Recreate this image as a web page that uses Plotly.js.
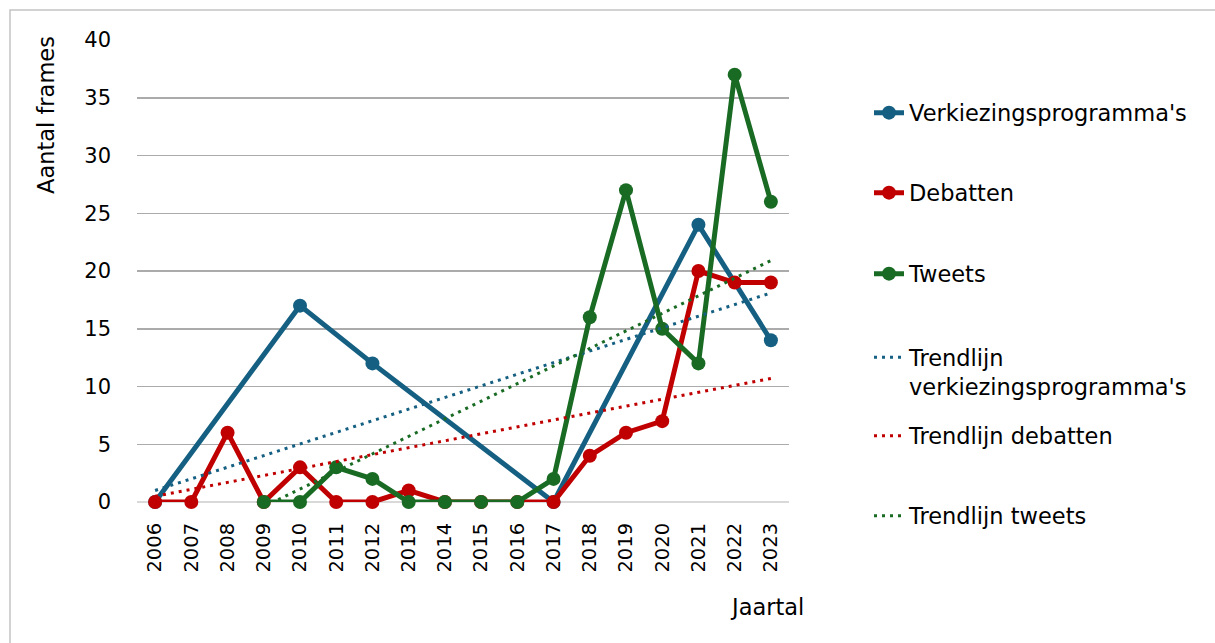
<!DOCTYPE html>
<html>
<head>
<meta charset="utf-8">
<script src="https://cdn.plot.ly/plotly-3.0.1.min.js"></script>
<style>
  html, body { margin: 0; padding: 0; background: #ffffff; }
  #chart { width: 1215px; height: 643px; }
</style>
</head>
<body>
<div id="chart"></div>
<script>
// ---- data ----
const years = ['2006','2007','2008','2009','2010','2011','2012','2013','2014','2015','2016','2017','2018','2019','2020','2021','2022','2023'];
const verkiezingsprogrammas = [0, null, null, null, 17, null, 12, null, null, null, null, 0, null, null, null, 24, null, 14];
const debatten = [0, 0, 6, 0, 3, 0, 0, 1, 0, 0, 0, 0, 4, 6, 7, 20, 19, 19];
const tweets = [null, null, null, 0, 0, 3, 2, 0, 0, 0, 0, 2, 16, 27, 15, 12, 37, 26];
// trendline end points [first year, last year]
const trendYearsVerk = ['2006', '2023'];
const trendVerk = [1.0, 18.1];
const trendYearsDeb = ['2006', '2023'];
const trendDeb = [0.5, 10.7];
const trendYearsTw = ['2009', '2023'];
const trendTw = [-0.4, 20.9];
const yTicks = [0, 5, 10, 15, 20, 25, 30, 35, 40];

// ---- layout helpers (pixel -> paper) ----
const W = 1215, H = 643;
const L = 137, R = 789, T = 40, B = 502;
const px = x => (x - L) / (R - L);
const py = y => (B - y) / (B - T);

const BLUE = '#156082', RED = '#C00000', GREEN = '#196B24';
const FONT = 'DejaVu Sans, sans-serif';

function series(name, y, color, legend) {
  return {
    type: 'scatter', mode: 'lines+markers', name: name, x: years, y: y,
    connectgaps: true, cliponaxis: false, legend: legend,
    line: { color: color, width: 5 },
    marker: { color: color, size: 14 }
  };
}
function trend(name, x, y, color, legend) {
  return {
    type: 'scatter', mode: 'lines', name: name, x: x, y: y, legend: legend,
    line: { color: color, width: 3, dash: '3px,5px' }
  };
}

const data = [
  series("Verkiezingsprogramma's", verkiezingsprogrammas, BLUE, 'legend'),
  series('Debatten', debatten, RED, 'legend2'),
  series('Tweets', tweets, GREEN, 'legend3'),
  trend("Trendlijn<br>verkiezingsprogramma's", trendYearsVerk, trendVerk, BLUE, 'legend4'),
  trend('Trendlijn debatten', trendYearsDeb, trendDeb, RED, 'legend5'),
  trend('Trendlijn tweets', trendYearsTw, trendTw, GREEN, 'legend6')
];

function leg(yc, valign) {
  return {
    x: px(869), xanchor: 'left', y: py(yc), yanchor: 'middle',
    bgcolor: 'rgba(0,0,0,0)', borderwidth: 0, valign: valign || 'middle',
    font: { family: FONT, size: 22.5, color: '#000000' }
  };
}

const layout = {
  width: W, height: H,
  margin: { l: L, r: W - R, t: T, b: H - B, pad: 0 },
  paper_bgcolor: '#ffffff', plot_bgcolor: '#ffffff',
  font: { family: FONT, color: '#000000' },
  showlegend: true,
  xaxis: {
    type: 'category', categoryarray: years, range: [-0.5, 17.5],
    tickangle: -90, ticks: '', showgrid: false, zeroline: false, showline: false,
    tickfont: { family: FONT, size: 19.5, color: '#000000' },
    ticklabelstandoff: 16, fixedrange: true
  },
  yaxis: {
    range: [0, 40], tickvals: yTicks, ticktext: yTicks.map(String),
    showgrid: true, gridcolor: '#ababab', gridwidth: 1.5,
    zeroline: true, zerolinecolor: '#d9d9d9', zerolinewidth: 2,
    showline: false, ticks: '',
    tickfont: { family: FONT, size: 21, color: '#000000' },
    ticklabelstandoff: 25, fixedrange: true
  },
  legend: leg(113),
  legend2: leg(193),
  legend3: leg(274),
  legend4: leg(372, 'top'),
  legend5: leg(436),
  legend6: leg(516),
  annotations: [
    { text: 'Aantal frames', xref: 'paper', yref: 'paper', x: px(46), y: py(115),
      xanchor: 'center', yanchor: 'middle', textangle: -90, showarrow: false,
      font: { family: FONT, size: 22.5, color: '#000000' } },
    { text: 'Jaartal', xref: 'paper', yref: 'paper', x: px(767), y: py(607),
      xanchor: 'center', yanchor: 'middle', showarrow: false,
      font: { family: FONT, size: 22.5, color: '#000000' } }
  ],
  shapes: [
    { type: 'rect', xref: 'paper', yref: 'paper', x0: px(10), y0: py(10), x1: px(1240), y1: py(680),
      line: { color: '#c4c4c4', width: 1.5 }, fillcolor: 'rgba(0,0,0,0)', layer: 'below' }
  ]
};

Plotly.newPlot('chart', data, layout, { staticPlot: true, displayModeBar: false });
</script>
</body>
</html>
